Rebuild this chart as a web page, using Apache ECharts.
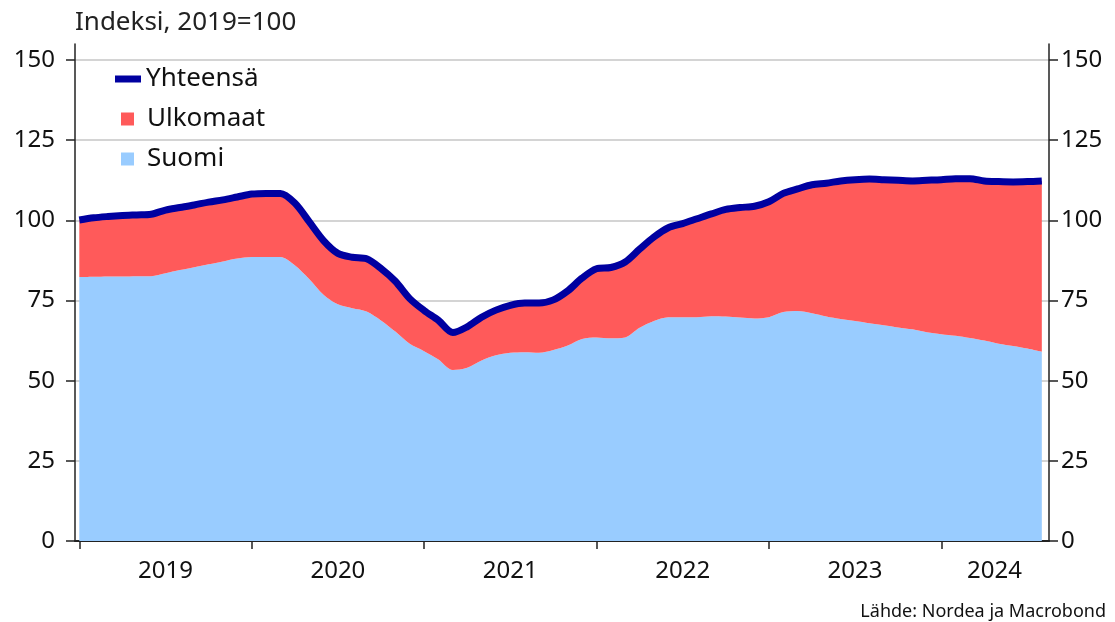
<!DOCTYPE html>
<html>
<head>
<meta charset="utf-8">
<script src="https://cdn.jsdelivr.net/npm/echarts@6/dist/echarts.min.js"></script>
<style>
  html, body { margin: 0; padding: 0; background: #fff; }
  #chart { width: 1115px; height: 622px; }
</style>
</head>
<body>
<div id="chart"></div>
<script>
// kuukausittain, tammikuu 2019 - elokuu 2024
const months = [
  "2019-01", "2019-02", "2019-03", "2019-04", "2019-05", "2019-06", "2019-07", "2019-08", "2019-09", "2019-10", "2019-11", "2019-12",
  "2020-01", "2020-02", "2020-03", "2020-04", "2020-05", "2020-06", "2020-07", "2020-08", "2020-09", "2020-10", "2020-11", "2020-12",
  "2021-01", "2021-02", "2021-03", "2021-04", "2021-05", "2021-06", "2021-07", "2021-08", "2021-09", "2021-10", "2021-11", "2021-12",
  "2022-01", "2022-02", "2022-03", "2022-04", "2022-05", "2022-06", "2022-07", "2022-08", "2022-09", "2022-10", "2022-11", "2022-12",
  "2023-01", "2023-02", "2023-03", "2023-04", "2023-05", "2023-06", "2023-07", "2023-08", "2023-09", "2023-10", "2023-11", "2023-12",
  "2024-01", "2024-02", "2024-03", "2024-04", "2024-05", "2024-06", "2024-07", "2024-08"
];

const suomi = [
  82.3, 82.4, 82.5, 82.5, 82.6, 82.6, 83.5, 84.5, 85.4, 86.3, 87.2, 88.1,
  88.6, 88.6, 88.6, 86.0, 81.7, 76.8, 73.8, 72.6, 71.6, 68.8, 65.3, 61.5,
  59.2, 56.6, 53.3, 54.0, 56.3, 57.9, 58.7, 58.9, 58.7, 59.6, 61.0, 63.0,
  63.5, 63.2, 63.5, 66.5, 68.6, 69.8, 69.8, 69.8, 70.1, 70.0, 69.7, 69.4,
  69.8, 71.4, 71.7, 71.0, 70.0, 69.2, 68.6, 67.9, 67.3, 66.6, 66.0, 65.1,
  64.5, 64.0, 63.3, 62.5, 61.5, 60.8, 60.0, 59.0
];

const ulkomaat = [
  17.8, 18.4, 18.7, 19.0, 19.1, 19.3, 19.7, 19.5, 19.4, 19.4, 19.2, 19.2,
  19.6, 19.8, 19.8, 19.4, 17.9, 16.9, 15.9, 15.9, 16.4, 16.2, 15.7, 14.1,
  12.7, 12.2, 11.7, 12.8, 13.5, 14.1, 14.8, 15.3, 15.5, 15.6, 17.0, 19.0,
  21.4, 22.1, 23.5, 24.5, 26.2, 27.9, 29.2, 30.7, 31.9, 33.4, 34.3, 35.0,
  36.0, 37.0, 38.1, 40.1, 41.6, 43.1, 44.1, 45.0, 45.4, 45.9, 46.3, 47.4,
  48.2, 49.0, 49.7, 49.8, 50.6, 51.2, 52.1, 53.3
];

const yhteensa = [
  100.1, 100.8, 101.2, 101.5, 101.7, 101.9, 103.2, 104.0, 104.8, 105.7, 106.4, 107.3,
  108.2, 108.4, 108.4, 105.4, 99.6, 93.7, 89.7, 88.5, 88.0, 85.0, 81.0, 75.6,
  71.9, 68.8, 65.0, 66.8, 69.8, 72.0, 73.5, 74.2, 74.2, 75.2, 78.0, 82.0,
  84.9, 85.3, 87.0, 91.0, 94.8, 97.7, 99.0, 100.5, 102.0, 103.4, 104.0, 104.4,
  105.8, 108.4, 109.8, 111.1, 111.6, 112.3, 112.7, 112.9, 112.7, 112.5, 112.3, 112.5,
  112.7, 113.0, 113.0, 112.3, 112.1, 112.0, 112.1, 112.3
];

const yTicks = [0, 25, 50, 75, 100, 125, 150];
const yearTicks = [0, 12, 24, 36, 48, 60];      // tammikuut
const yearLabelPos = [6, 18, 30, 42, 54, 63.7]; // vuoden keskikohta
const firstYear = 2019;

const font = "Noto Sans";
// [arvo, kuukausi] -> pinotaan arvon mukaan, ei x:n
const toPairs = arr => arr.map((v, i) => [v, i]);

const chart = echarts.init(document.getElementById("chart"));

const yAxisBase = {
  type: "value",
  min: 0,
  max: 155,
  axisLine: { show: true, onZero: false, lineStyle: { color: "#222", width: 1.5 } },
  axisTick: { show: true, customValues: yTicks, length: 9, lineStyle: { color: "#222", width: 1.5 } },
  axisLabel: { customValues: yTicks, color: "#111", fontSize: 24, fontFamily: font }
};

chart.setOption({
  animation: false,
  title: [
    {
      text: "Indeksi, 2019=100",
      left: 70,
      top: 5,
      textStyle: { color: "#222", fontSize: 26, fontWeight: "normal", fontFamily: font }
    },
    {
      text: "Lähde: Nordea ja Macrobond",
      right: 4,
      top: 598,
      textStyle: { color: "#111", fontSize: 18, fontWeight: "normal", fontFamily: font }
    }
  ],
  grid: { left: 75, right: 66, top: 44, bottom: 81 },
  legend: [
    {
      data: ["Yhteensä"],
      left: 110,
      top: 60,
      orient: "vertical",
      icon: "rect",
      itemWidth: 26,
      itemHeight: 7,
      textStyle: { fontSize: 26, color: "#111", fontFamily: font, lineHeight: 28 }
    },
    {
      data: ["Ulkomaat", "Suomi"],
      left: 116,
      top: 100,
      orient: "vertical",
      icon: "rect",
      itemWidth: 13,
      itemHeight: 13,
      itemGap: 12,
      textStyle: { fontSize: 26, color: "#111", fontFamily: font, lineHeight: 28, padding: [0, 0, 0, 8] }
    }
  ],
  xAxis: {
    type: "value",
    min: -0.3,
    max: 67.5,
    axisLine: { show: true, onZero: false, lineStyle: { color: "#222", width: 2 } },
    axisTick: { show: true, customValues: yearTicks, length: 8, lineStyle: { color: "#222", width: 1.5 } },
    axisLabel: {
      customValues: yearLabelPos,
      color: "#111",
      fontSize: 24,
      fontFamily: font,
      margin: 18,
      formatter: v => String(firstYear + Math.floor(v / 12))
    },
    splitLine: { show: false }
  },
  yAxis: [
    Object.assign({}, yAxisBase, {
      position: "left",
      axisLabel: Object.assign({}, yAxisBase.axisLabel, { margin: 20 }),
      splitLine: { show: true, lineStyle: { color: "#d4d4d4", width: 2 } }
    }),
    Object.assign({}, yAxisBase, {
      position: "right",
      axisLabel: Object.assign({}, yAxisBase.axisLabel, { margin: 12 }),
      splitLine: { show: false }
    })
  ],
  series: [
    {
      name: "Suomi",
      type: "line",
      stack: "total",
      data: toPairs(suomi),
      encode: { x: 1, y: 0 },
      smooth: 0.3,
      showSymbol: false,
      lineStyle: { width: 0 },
      itemStyle: { color: "#99ccff" },
      areaStyle: { color: "#99ccff", opacity: 1 }
    },
    {
      name: "Ulkomaat",
      type: "line",
      stack: "total",
      data: toPairs(ulkomaat),
      encode: { x: 1, y: 0 },
      smooth: 0.3,
      showSymbol: false,
      lineStyle: { width: 0 },
      itemStyle: { color: "#ff5a5a" },
      areaStyle: { color: "#ff5a5a", opacity: 1 }
    },
    {
      name: "Yhteensä",
      type: "line",
      data: toPairs(yhteensa),
      encode: { x: 1, y: 0 },
      smooth: 0.3,
      showSymbol: false,
      z: 5,
      lineStyle: { width: 7, color: "#0000a0" },
      itemStyle: { color: "#0000a0" }
    }
  ]
});
</script>
</body>
</html>
